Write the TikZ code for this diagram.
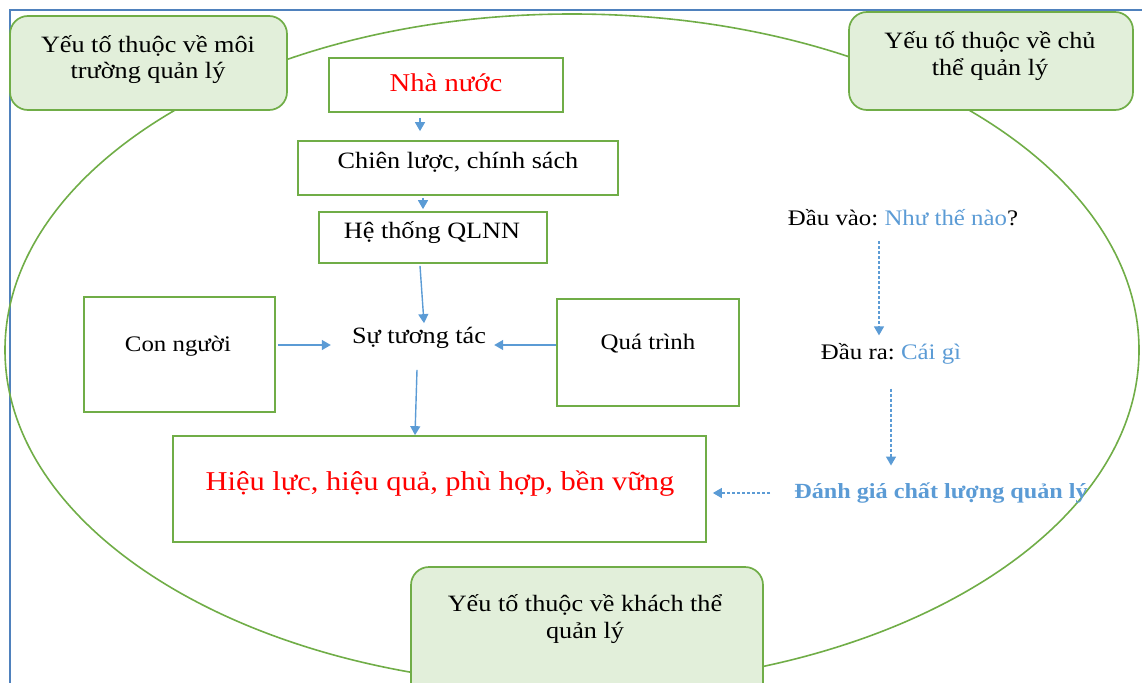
\documentclass[tikz,border=0pt]{standalone}
\usepackage{fontspec}
\setmainfont{Liberation Serif}[FakeStretch=1.12]
\usetikzlibrary{arrows.meta,calc}
\definecolor{boxgreen}{HTML}{70AD47}
\definecolor{fillgreen}{HTML}{E2EFDA}
\definecolor{arrowblue}{HTML}{5B9BD5}
\definecolor{framebl}{HTML}{4F81BD}
\definecolor{titlered}{HTML}{FF0000}
\frenchspacing

\begin{document}
\begin{tikzpicture}[x=1pt,y=-1pt,
  flowbox/.style={draw=boxgreen, line width=1.7pt, fill=white, rectangle, inner sep=0pt},
  factorbox/.style={draw=boxgreen, line width=1.7pt, fill=fillgreen, rounded corners=18pt, inner sep=0pt},
  txt/.style={inner sep=0pt, align=center, font=\fontsize{23.4}{26.5}\selectfont},
  smalltxt/.style={inner sep=0pt, align=center, font=\fontsize{22.2}{25}\selectfont},
  flow/.style={draw=arrowblue, line width=1.4pt, -{Triangle[width=10pt,length=9pt]}},
  dflow/.style={flow, dash pattern=on 3pt off 2pt},
]
\useasboundingbox (0,0) rectangle (1142,682);
\clip (0,0) rectangle (1142,682);

% page frame and the surrounding environment
\draw[framebl, line width=1.5pt] (10,700) -- (10,10) -- (1160,10);
\draw[boxgreen, line width=1.6pt] (572,350) ellipse [x radius=567, y radius=336];

% factor boxes
\node[factorbox, minimum width=277pt, minimum height=94pt] (env) at (148.5,63) {};
\node[txt] (env-t) at (148,59.5) {Yếu tố thuộc về môi\\trường quản lý};
\node[factorbox, minimum width=284pt, minimum height=98pt] (subj) at (991,61) {};
\node[txt] (subj-t) at (990,56) {Yếu tố thuộc về chủ\\thể quản lý};
\node[factorbox, minimum width=352pt, minimum height=134pt] (obj) at (587,634) {};
\node[txt] (obj-t) at (585,619) {Yếu tố thuộc về khách thể\\quản lý};

% main flow
\node[flowbox, minimum width=234pt, minimum height=54pt] (state) at (446,85) {};
\node[txt, text=titlered, font=\fontsize{25.6}{28}\selectfont] (state-t) at (446,83) {Nhà nước};
\node[flowbox, minimum width=320pt, minimum height=54pt] (policy) at (458,168) {};
\node[txt] (policy-t) at (458,162) {Chiên lược, chính sách};
\node[flowbox, minimum width=228pt, minimum height=51pt] (system) at (433,237.5) {};
\node[txt] (system-t) at (432,233) {Hệ thống QLNN};

\node[txt] (inter) at (419,338) {Sự tương tác};
\node[flowbox, minimum width=191pt, minimum height=115pt] (people) at (179.5,354.5) {};
\node[smalltxt] (people-t) at (178,346) {Con người};
\node[flowbox, minimum width=182pt, minimum height=107pt] (process) at (648,352.5) {};
\node[smalltxt] (process-t) at (648,344) {Quá trình};

\node[flowbox, minimum width=533pt, minimum height=106pt] (result) at (439.5,489) {};
\node[txt, text=titlered, font=\fontsize{27.2}{30}\selectfont] (result-t) at (440,484) {Hiệu lực, hiệu quả, phù hợp, bền vững};

% evaluation side
\node[smalltxt] (input) at (903,218) {Đầu vào: \textcolor{arrowblue}{Như thế nào}?};
\node[smalltxt] (output) at (891,354) {Đầu ra: \textcolor{arrowblue}{Cái gì}};
\node[smalltxt, text=arrowblue, font=\bfseries\fontsize{21.6}{25}\selectfont] (eval) at (941,493) {Đánh giá chất lượng quản lý};

% connectors
\draw[flow] ($(state.south -| inter)+(1,5)$) -- ($(policy.north -| inter)+(1,-9)$);
\draw[flow] ($(policy.south -| inter)+(4,2)$) -- ($(system.north -| inter)+(4,-2)$);
\draw[flow] ($(system.south -| inter)+(1,2)$) -- ($(inter.north)+(5,-4)$);
\draw[flow] ($(people.east |- inter)+(2,7)$) -- ($(inter.west)+(-21,7)$);
\draw[flow] ($(process.west |- inter)+(0,7)$) -- ($(inter.east)+(8,7)$);
\draw[flow] ($(inter.south)+(-2,21)$) -- ($(result.north -| inter)+(-4,0)$);

\draw[dflow] ($(input.south)+(-24,15)$) -- ($(output.north)+(-12,-8)$);
\draw[dflow] ($(output.south)+(0,24)$) -- ($(eval.north)+(-50,-17)$);
\draw[dflow] ($(eval.west)+(-24,0)$) -- ($(result.east)+(6,4)$);
\end{tikzpicture}
\end{document}
